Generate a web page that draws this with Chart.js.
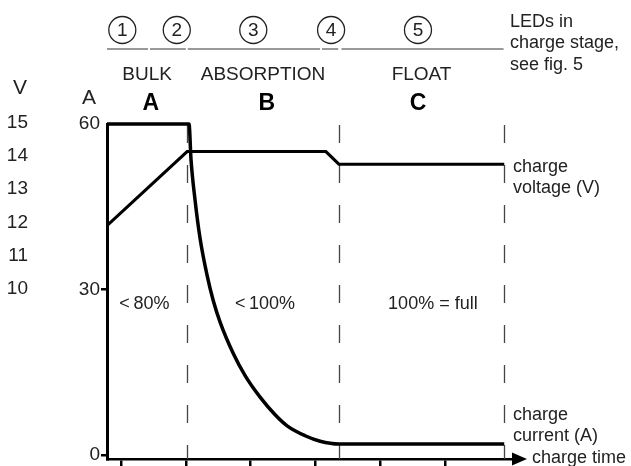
<!DOCTYPE html>
<html>
<head>
<meta charset="utf-8">
<title>Charge stages</title>
<script src="https://cdn.jsdelivr.net/npm/chart.js"></script>
<style>
  html, body { margin: 0; padding: 0; background: #fff; }
  #wrap { width: 631px; height: 466px; position: relative; }
</style>
</head>
<body>
<div id="wrap"><canvas id="myChart"></canvas></div>
<script>
// time runs in arbitrary units, one unit per tick mark on the time axis
var timeTicks = [0, 1, 2, 3, 4, 5];
var currentTicks = [0, 30, 60];
var voltTicks = [10, 11, 12, 13, 14, 15];

// charge current (A)
var currentTime = [-0.216, 1.049, 1.080, 1.142, 1.219, 1.327, 1.420, 1.528, 1.728, 1.914, 2.145, 2.377, 2.562, 2.840, 3.071, 3.364, 5.91];
var currentAmps = [60, 60, 53.5, 46.2, 39.3, 32.6, 28.1, 24.1, 18.5, 14.4, 10.5, 7.3, 5.3, 3.5, 2.5, 2.0, 2.0];

// charge voltage (V)
var voltTime = [-0.216, 1.02, 3.16, 3.36, 5.91];
var voltValues = [11.9, 14.13, 14.13, 13.75, 13.75];

// charge stages
var stageNames = ['BULK', 'ABSORPTION', 'FLOAT'];
var stageLetters = ['A', 'B', 'C'];
var stagePercent = ['<\u200980%', '<\u2009100%', '100% = full'];
var stageEdges = [-0.216, 1.02, 3.36, 5.91];

// LED steps shown above the chart
var ledLabels = ['1', '2', '3', '4', '5'];
var ledEdges = [[-0.216, 0.417], [0.448, 1.0], [1.03, 3.07], [3.10, 3.35], [3.40, 5.90]];

// where the annotation texts sit along the time axis
var ledCenters = [0.02, 0.86, 2.04, 3.24, 4.58];
var letterCenters = [0.46, 2.25, 4.58];
var percentCenters = [0.36, 2.22, 4.81];

var FONT = '"Liberation Sans", Arial, sans-serif';
Chart.defaults.font.family = FONT;

function setTicks(list) {
    return function(scale) {
        scale.ticks = list.map(function(v) { return { value: v }; });
    };
}

// fixed width for the left axes, no extra room for the end labels
function fixWidth(w) {
    return function(scale) {
        scale.width = w;
        scale.paddingTop = 0;
        scale.paddingBottom = 0;
    };
}

function drawText(ctx, str, x, y, size, align, weight) {
    ctx.font = (weight || 'normal') + ' ' + size + 'px ' + FONT;
    ctx.textAlign = align || 'center';
    ctx.textBaseline = 'middle';
    ctx.fillText(str, x, y);
}

function drawLine(ctx, x1, y1, x2, y2) {
    ctx.beginPath();
    ctx.moveTo(x1, y1);
    ctx.lineTo(x2, y2);
    ctx.stroke();
}

var annotations = {
    id: 'annotations',
    beforeDatasetsDraw: function(chart) {
        var ctx = chart.ctx;
        var x = chart.scales.x;
        var area = chart.chartArea;

        // dashed stage borders
        ctx.save();
        ctx.strokeStyle = '#444';
        ctx.lineWidth = 1.3;
        ctx.setLineDash([18, 22]);
        stageEdges.slice(1).forEach(function(t) {
            var px = Math.round(x.getPixelForValue(t)) + 0.5;
            drawLine(ctx, px, area.top + 1, px, area.bottom);
        });
        ctx.restore();
    },
    afterDraw: function(chart) {
        var ctx = chart.ctx;
        var x = chart.scales.x;
        var area = chart.chartArea;
        ctx.save();
        ctx.fillStyle = '#222';

        // LED numbers in circles
        ctx.strokeStyle = '#222';
        ctx.lineWidth = 1.3;
        ledLabels.forEach(function(lab, i) {
            var cx = x.getPixelForValue(ledCenters[i]);
            ctx.beginPath();
            ctx.arc(cx, 30, 13.5, 0, Math.PI * 2);
            ctx.stroke();
            drawText(ctx, lab, cx, 31, 19);
        });
        ctx.strokeStyle = '#777';
        ctx.lineWidth = 1.5;
        ledEdges.forEach(function(e) {
            drawLine(ctx, x.getPixelForValue(e[0]), 49, x.getPixelForValue(e[1]), 49);
        });
        drawText(ctx, 'LEDs in', 510, 22, 18, 'left');
        drawText(ctx, 'charge stage,', 510, 43, 18, 'left');
        drawText(ctx, 'see fig. 5', 510, 65, 18, 'left');

        // stage names, letters and state of charge
        stageNames.forEach(function(name, i) {
            var mid = x.getPixelForValue((stageEdges[i] + stageEdges[i + 1]) / 2);
            drawText(ctx, name, mid, 75, 19);
            ctx.fillStyle = '#000';
            drawText(ctx, stageLetters[i], x.getPixelForValue(letterCenters[i]), 104, 23, 'center', 'bold');
            ctx.fillStyle = '#222';
            drawText(ctx, stagePercent[i], x.getPixelForValue(percentCenters[i]), 304, 18);
        });

        // axis titles
        drawText(ctx, 'V', 20, 88, 21);
        drawText(ctx, 'A', 89, 98, 21);

        // series labels on the right
        drawText(ctx, 'charge', area.right + 1, 167, 18, 'left');
        drawText(ctx, 'voltage (V)', area.right + 1, 188, 18, 'left');
        drawText(ctx, 'charge', area.right + 1, 415, 18, 'left');
        drawText(ctx, 'current (A)', area.right + 1, 436, 18, 'left');
        drawText(ctx, 'charge time', area.right + 20, 458, 18, 'left');

        // arrow at the end of the time axis
        ctx.fillStyle = '#000';
        ctx.beginPath();
        ctx.moveTo(area.right, area.bottom - 6.5);
        ctx.lineTo(area.right + 15, area.bottom);
        ctx.lineTo(area.right, area.bottom + 6.5);
        ctx.closePath();
        ctx.fill();
        ctx.restore();
    }
};

var ctx = document.getElementById('myChart').getContext('2d');

var myChart = new Chart(ctx, {
    type: 'line',
    data: {
        datasets: [{
            label: 'charge current (A)',
            data: currentTime.map(function(t, i) { return { x: t, y: currentAmps[i] }; }),
            yAxisID: 'yA',
            borderColor: '#000',
            borderWidth: 3.5,
            cubicInterpolationMode: 'monotone',
            pointRadius: 0,
            clip: false
        }, {
            label: 'charge voltage (V)',
            data: voltTime.map(function(t, i) { return { x: t, y: voltValues[i] }; }),
            yAxisID: 'yV',
            borderColor: '#000',
            borderWidth: 3,
            tension: 0,
            pointRadius: 0,
            clip: false
        }]
    },
    options: {
        responsive: true,
        maintainAspectRatio: false,
        animation: false,
        layout: {
            padding: { top: 124, right: 119, bottom: 0, left: 0 }
        },
        plugins: {
            legend: { display: false },
            tooltip: { enabled: false }
        },
        scales: {
            x: {
                type: 'linear',
                min: -0.216,
                max: 6.03,
                afterBuildTicks: setTicks(timeTicks),
                afterFit: function(scale) { scale.height = 7; },
                ticks: { display: false },
                grid: { drawOnChartArea: false, color: '#000', lineWidth: 2.5, tickLength: 7 },
                border: { color: '#000', width: 2.5 }
            },
            yA: {
                type: 'linear',
                position: 'left',
                weight: 0,
                min: -0.72,
                max: 60,
                afterBuildTicks: setTicks(currentTicks),
                afterFit: fixWidth(73),
                ticks: { color: '#222', font: { size: 19 }, padding: 1 },
                grid: {
                    drawOnChartArea: false,
                    color: function(c) { return c.tick && c.tick.value === 60 ? 'rgba(0,0,0,0)' : '#000'; },
                    lineWidth: 2.5,
                    tickLength: 6
                },
                border: { color: '#000', width: 3 }
            },
            yV: {
                type: 'linear',
                position: 'left',
                weight: 1,
                min: 4.87,
                max: 14.96,
                afterBuildTicks: setTicks(voltTicks),
                afterFit: fixWidth(34),
                ticks: { color: '#222', font: { size: 19 }, padding: 6 },
                grid: { display: false, drawTicks: false },
                border: { display: false }
            }
        }
    },
    plugins: [annotations]
});
</script>
</body>
</html>
